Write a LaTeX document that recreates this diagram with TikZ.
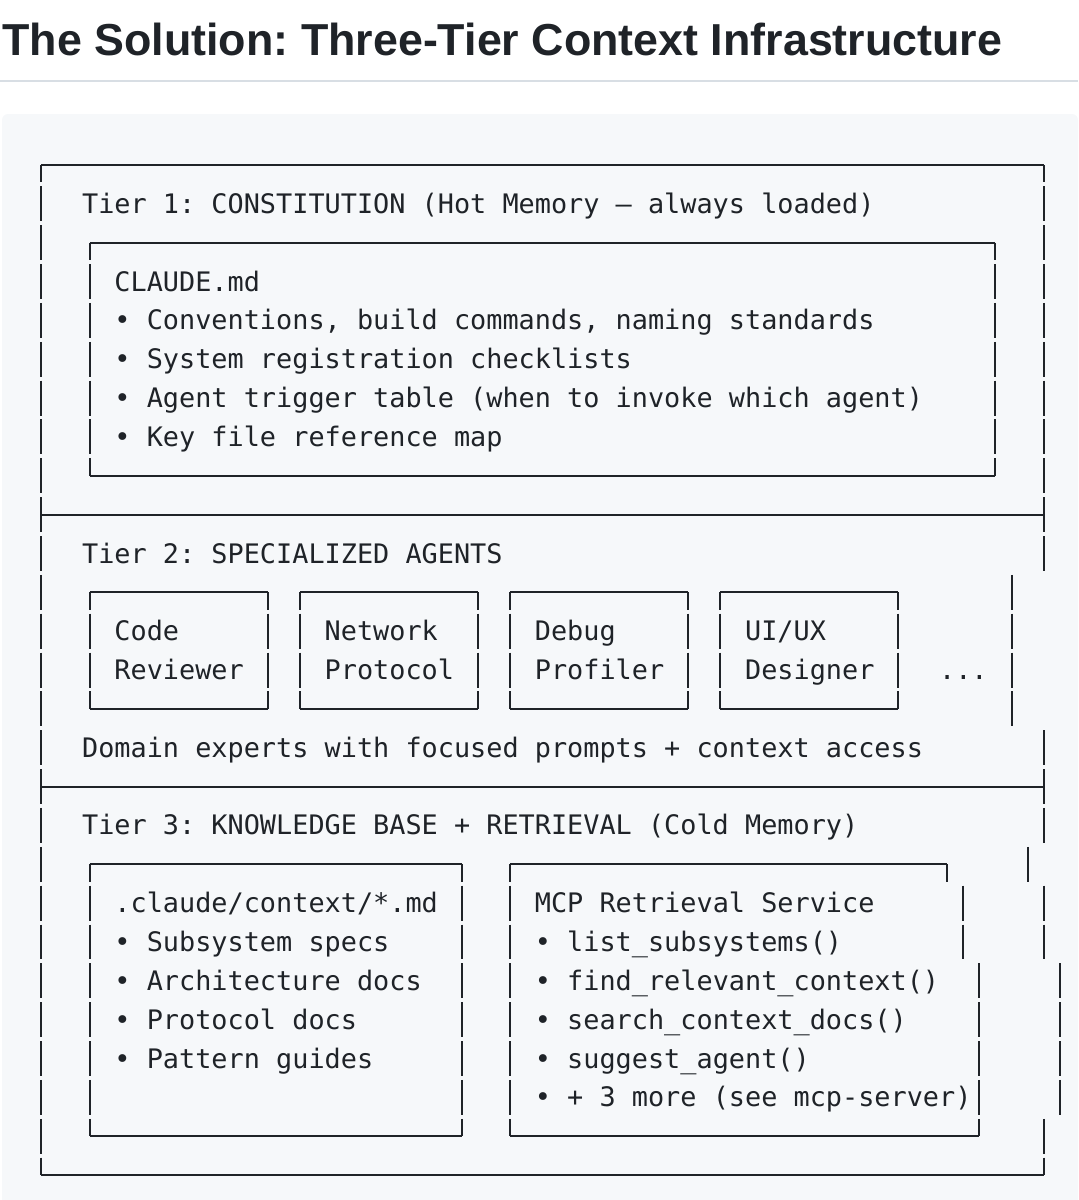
\documentclass[tikz,border=0pt]{standalone}
\usepackage{fontspec}
\usetikzlibrary{positioning}
\newfontfamily\asciifont{DejaVu Sans Mono}
\newfontfamily\headfont{Liberation Sans}
\definecolor{ink}{HTML}{1F2328}
\definecolor{codebg}{HTML}{F6F8FA}
\definecolor{rulegray}{HTML}{D8DEE4}
\tikzset{
  boxline/.style = {draw = ink, line width = 1pt},
  asc/.style = {anchor = base west, inner sep = 0pt, text = ink, font = \asciifont\fontsize{13.43pt}{16pt}\selectfont\frenchspacing},
}
\newcommand\cellbar[2]{\draw[boxline] (#1,#2-0.45) -- (#1,#2+0.45);}
\newcommand\cellbardn[2]{\draw[boxline] (#1,#2) -- (#1,#2+0.45);}
\newcommand\cellbarup[2]{\draw[boxline] (#1,#2-0.45) -- (#1,#2);}
\newcommand\asciibox[4]{%
  \draw[boxline] (#1,#3) -- (#2,#3) (#1,#4) -- (#2,#4);
  \cellbardn{#1}{#3}\cellbardn{#2}{#3}\cellbarup{#1}{#4}\cellbarup{#2}{#4}
  \pgfmathtruncatemacro\rowa{#3+1}\pgfmathtruncatemacro\rowb{#4-1}
  \foreach \k in {\rowa,...,\rowb} {\cellbar{#1}{\k}\cellbar{#2}{\k}}
}

\begin{document}
\frenchspacing
\begin{tikzpicture}[x = 0.5pt, y = -0.5pt]
\useasboundingbox (0,0) rectangle (1078,1200);
\node[anchor = base west, inner sep = 0pt, text = ink, font = \headfont\bfseries\fontsize{22.4pt}{27pt}\selectfont\frenchspacing] (title) at (2,55) {The Solution: Three-Tier Context Infrastructure};
\draw[rulegray, line width = 1pt] (0,81) -- (1078,81);
\fill[codebg, rounded corners = 3pt] (2,114) rectangle (1078,1240);

\begin{scope}[shift = {(41.3,165)}, x = 8.085pt, y = -19.425pt]
% outer frame
\draw[boxline] (0,0) -- (62,0) (0,9) -- (62,9) (0,16) -- (62,16) (0,26) -- (62,26);
\cellbardn{0}{0}\cellbardn{62}{0}
\cellbarup{0}{26}\cellbarup{62}{26}
\foreach \k in {1,...,25} {\cellbar{0}{\k}}
\foreach \k in {1,...,10,15,16,17,19,20,25} {\cellbar{62}{\k}}
\foreach \k in {11,...,14} {\cellbar{60}{\k}}
\cellbar{61}{18}
\foreach \k in {21,...,24} {\cellbar{63}{\k}}

% tier 1
\node[asc] (tier1) at (2.5,1.245) {Tier 1: CONSTITUTION (Hot Memory — always loaded)};
\asciibox{3}{59}{2}{8}
\node[asc] (claude) at (4.5,3.245) {CLAUDE.md};
\node[asc] (conv)   at (4.5,4.245) {• Conventions, build commands, naming standards};
\node[asc] (reg)    at (4.5,5.245) {• System registration checklists};
\node[asc] (trig)   at (4.5,6.245) {• Agent trigger table (when to invoke which agent)};
\node[asc] (keymap) at (4.5,7.245) {• Key file reference map};

% tier 2
\node[asc] (tier2) at (2.5,10.245) {Tier 2: SPECIALIZED AGENTS};
\foreach \a/\b in {3/14,16/27,29/40,42/53} {\asciibox{\a}{\b}{11}{14}}
\node[asc] (code)  at (4.5,12.245)  {Code};
\node[asc] (rev)   at (4.5,13.245)  {Reviewer};
\node[asc] (net)   at (17.5,12.245) {Network};
\node[asc] (proto) at (17.5,13.245) {Protocol};
\node[asc] (debug) at (30.5,12.245) {Debug};
\node[asc] (prof)  at (30.5,13.245) {Profiler};
\node[asc] (uiux)  at (43.5,12.245) {UI/UX};
\node[asc] (des)   at (43.5,13.245) {Designer};
\node[asc] (more)  at (55.5,13.245) {...};
\node[asc] (domain) at (2.5,15.245) {Domain experts with focused prompts + context access};

% tier 3
\node[asc] (tier3) at (2.5,17.245) {Tier 3: KNOWLEDGE BASE + RETRIEVAL (Cold Memory)};
\asciibox{3}{26}{18}{25}
\node[asc] (ctx)   at (4.5,19.245) {.claude/context/*.md};
\node[asc] (subs)  at (4.5,20.245) {• Subsystem specs};
\node[asc] (arch)  at (4.5,21.245) {• Architecture docs};
\node[asc] (pdocs) at (4.5,22.245) {• Protocol docs};
\node[asc] (patt)  at (4.5,23.245) {• Pattern guides};

\draw[boxline] (29,18) -- (56,18) (29,25) -- (58,25);
\cellbardn{29}{18}\cellbardn{56}{18}\cellbarup{29}{25}\cellbarup{58}{25}
\foreach \k in {19,...,24} {\cellbar{29}{\k}}
\cellbar{57}{19}\cellbar{57}{20}
\foreach \k in {21,...,24} {\cellbar{58}{\k}}
\node[asc] (mcp)     at (30.5,19.245) {MCP Retrieval Service};
\node[asc] (listsub) at (30.5,20.245) {• list\_subsystems()};
\node[asc] (findrel) at (30.5,21.245) {• find\_relevant\_context()};
\node[asc] (search)  at (30.5,22.245) {• search\_context\_docs()};
\node[asc] (suggest) at (30.5,23.245) {• suggest\_agent()};
\node[asc] (plus)    at (30.5,24.245) {• + 3 more (see mcp-server)};
\end{scope}
\end{tikzpicture}
\end{document}
